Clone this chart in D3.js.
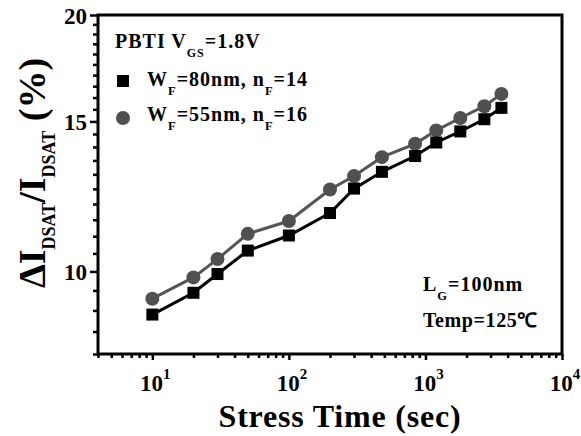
<!DOCTYPE html>
<html><head><meta charset="utf-8">
<script src="https://cdn.jsdelivr.net/npm/d3@7"></script>
<style>
body{margin:0;background:#fff;}
text{font-family:"Liberation Serif","Times New Roman",serif;font-weight:bold;}
</style></head>
<body><svg id="c" width="581" height="436"></svg>
<script>
const times = [10, 20, 30, 50, 100, 200, 300, 480, 840, 1200, 1800, 2700, 3600];
const seriesA = [8.90, 9.44, 9.93, 10.58, 11.02, 11.71, 12.51, 13.09, 13.66, 14.17, 14.60, 15.09, 15.56]; // W_F=80nm, n_F=14 (squares)
const seriesB = [9.29, 9.84, 10.34, 11.07, 11.46, 12.48, 12.94, 13.62, 14.12, 14.64, 15.14, 15.63, 16.16]; // W_F=55nm, n_F=16 (circles)
const yMajor = [10, 15, 20];
const xMajor = [10, 100, 1000, 10000];
const xExp = ["1", "2", "3", "4"];

const svg = d3.select("#c");
const L = 98, R = 562, T = 15, B = 354;
const x = d3.scaleLog().domain([4, 1e4]).range([L, R]);
const y = d3.scaleLog().domain([8, 20]).range([B, T]);

// minor ticks
const yMinor = d3.range(8, 20.01, 0.5).filter(v => !yMajor.includes(v));
const xMinor = [];
[1, 10, 100, 1000].forEach(d => { for (let k = 1; k <= 9; k++) { const v = d * k; if (v >= 4 && v < 1e4 && !xMajor.includes(v)) xMinor.push(v); } });

const gy = svg.append("g").attr("transform", `translate(${L},0)`);
gy.call(d3.axisLeft(y).tickValues(yMinor).tickSize(5).tickFormat(""));
gy.append("g").call(d3.axisLeft(y).tickValues(yMajor).tickSize(8).tickPadding(3).tickFormat(d3.format("d")));
gy.selectAll(".domain").remove();
gy.selectAll("line").attr("stroke", "#000").attr("stroke-width", 2.5);
gy.selectAll("text").attr("font-size", 23).attr("fill", "#000").attr("dy", "0.35em");

const gx = svg.append("g").attr("transform", `translate(0,${B})`);
gx.call(d3.axisBottom(x).tickValues(xMinor).tickSize(4).tickFormat(""));
gx.append("g").call(d3.axisBottom(x).tickValues(xMajor).tickSize(6).tickFormat(""));
gx.selectAll(".domain").remove();
gx.selectAll("line").attr("stroke", "#000").attr("stroke-width", 2.5);

// x tick labels with superscripts
xMajor.forEach((v, i) => {
  const t = svg.append("text").attr("x", x(v) + 3).attr("y", 391).attr("text-anchor", "middle").attr("font-size", 23).attr("fill", "#000");
  t.append("tspan").text("10");
  t.append("tspan").attr("font-size", 15).attr("dy", -12).text(xExp[i]);
});

// frame
svg.append("rect").attr("x", L).attr("y", T).attr("width", R - L).attr("height", B - T)
  .attr("fill", "none").attr("stroke", "#000").attr("stroke-width", 3);

const dataA = times.map((t, i) => ({ t, v: seriesA[i] }));
const dataB = times.map((t, i) => ({ t, v: seriesB[i] }));
const line = d3.line().x(d => x(d.t)).y(d => y(d.v));

svg.append("path").datum(dataB).attr("d", line).attr("fill", "none").attr("stroke", "#555").attr("stroke-width", 3);
svg.selectAll(".cir").data(dataB).enter().append("circle")
  .attr("cx", d => x(d.t)).attr("cy", d => y(d.v)).attr("r", 7).attr("fill", "#505050");

svg.append("path").datum(dataA).attr("d", line).attr("fill", "none").attr("stroke", "#000").attr("stroke-width", 3);
svg.selectAll(".sq").data(dataA).enter().append("rect")
  .attr("x", d => x(d.t) - 6).attr("y", d => y(d.v) - 6).attr("width", 12).attr("height", 12).attr("fill", "#000");

// helper: text with subscripts; parts = [[text, isSub], ...]
function rich(xp, yp, size, subSize, shift, parts, ls) {
  const t = svg.append("text").attr("x", xp).attr("y", yp).attr("font-size", size).attr("fill", "#000")
    .attr("letter-spacing", ls || 0);
  let cur = 0;
  parts.forEach(([s, isSub]) => {
    const target = isSub ? shift : 0;
    const sp = t.append("tspan").attr("dy", target - cur).text(s);
    if (isSub) sp.attr("font-size", subSize);
    cur = target;
  });
  return t;
}

rich(115, 48, 20, 12, 9, [["PBTI V", 0], ["GS", 1], ["=1.8V", 0]], 1);

svg.append("rect").attr("x", 117).attr("y", 75).attr("width", 12).attr("height", 12).attr("fill", "#000");
rich(147, 85.5, 20, 12.5, 9, [["W", 0], ["F", 1], ["=80nm, n", 0], ["F", 1], ["=14", 0]], 1);

svg.append("circle").attr("cx", 123).attr("cy", 118).attr("r", 7).attr("fill", "#505050");
rich(147, 121, 20, 12.5, 9, [["W", 0], ["F", 1], ["=55nm, n", 0], ["F", 1], ["=16", 0]], 1);

rich(423, 291, 20, 12.5, 9, [["L", 0], ["G", 1], ["=100nm", 0]], 1);
rich(423, 327, 20, 12.5, 9, [["Temp=125℃", 0]], 0.6);

// axis titles
svg.append("text").attr("x", 340).attr("y", 427).attr("text-anchor", "middle").attr("font-size", 32)
  .attr("letter-spacing", 0.8).attr("fill", "#000").text("Stress Time (sec)");

const yl = svg.append("text").attr("transform", "translate(45,173) rotate(-90)").attr("text-anchor", "middle")
  .attr("font-size", 38).attr("fill", "#000");
yl.append("tspan").text("ΔI");
yl.append("tspan").attr("font-size", 18).attr("dy", 10).text("DSAT");
yl.append("tspan").attr("dy", -10).text("/I");
yl.append("tspan").attr("font-size", 18).attr("dy", 10).text("DSAT");
yl.append("tspan").attr("dy", -10).text(" (%)");
</script></body></html>
